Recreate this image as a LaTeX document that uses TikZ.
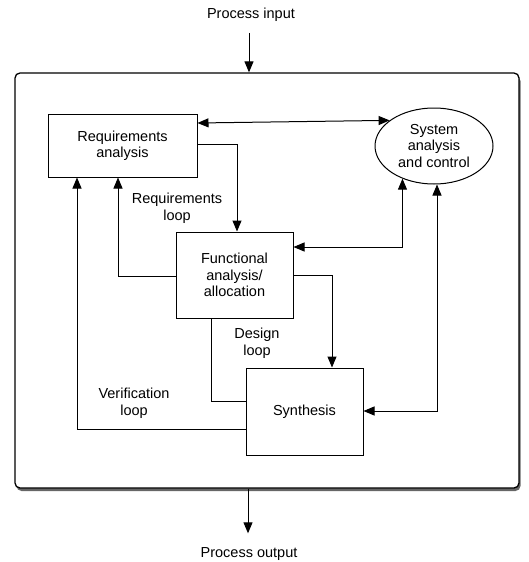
\documentclass[tikz,border=0pt]{standalone}
\usepackage{fontspec}
\setmainfont{Liberation Sans}
\usetikzlibrary{arrows.meta,shapes.geometric,shadows}
\begin{document}
\begin{tikzpicture}[x=1pt,y=-1pt,
  font=\fontsize{14.5}{16.5}\selectfont,
  box/.style={draw, line width=1pt, align=center, inner sep=0pt},
  lbl/.style={align=center, inner sep=0pt},
  conn/.style={line width=1pt},
  arr/.style={conn, -{Triangle[length=11pt,width=9pt]}},
  darr/.style={conn, {Triangle[length=11pt,width=9pt]}-{Triangle[length=11pt,width=9pt]}}]
\useasboundingbox (0,0) rectangle (528,562);
% outer frame
\node[draw, line width=1.3pt, rounded corners=5pt, minimum width=504pt, minimum height=415pt,
  inner sep=0pt, fill=white,
  drop shadow={shadow xshift=1.5pt, shadow yshift=-3pt, opacity=0.75, fill=black!80}]
  (outer) at (267,280.5) {};
% nodes
\node[box, minimum width=149pt, minimum height=63pt] (req) at (122.5,145.5) {Requirements\\analysis};
\node[box, ellipse, minimum width=118pt, minimum height=76pt] (ell) at (434,146) {System\\analysis\\and control};
\node[box, minimum width=117pt, minimum height=86pt] (func) at (234.5,275) {Functional\\analysis/\\allocation};
\node[box, minimum width=117pt, minimum height=87pt] (syn) at (304.5,411.5) {Synthesis};
% labels
\node[lbl] (lreq) at (177,208) {Requirements\\loop};
\node[lbl] (ldes) at (257,343) {Design\\loop};
\node[lbl] (lver) at (134,403) {Verification\\loop};
\node[lbl] (pin) at (251,15) {Process input};
\node[lbl] (pout) at (249,554) {Process output};
% connectors
\draw[darr] (req.east |- 0,123) -- (ell.150);
\draw[arr] (req.east |- 0,144) -| ([xshift=2.5pt]func.north);
\draw[arr] (func.west |- 0,276) -| ([xshift=-4.5pt]req.south);
\draw[arr] (syn.west |- 0,429) -| ([xshift=-45.5pt]req.south);
\draw[conn] ([xshift=-23.5pt]func.south) |- (syn.west |- 0,401);
\draw[arr] (func.east |- 0,275) -| ([xshift=27.5pt]syn.north);
\draw[darr] (func.east |- 0,247) -| (ell.226);
\draw[darr] (syn.east |- 0,411) -| ([xshift=3pt]ell.south);
\draw[arr] ([xshift=-2pt,yshift=-11pt]pin.south) coordinate (pa) -- (pa |- outer.north);
\draw[arr] (outer.south -| 248,0) coordinate (pb) -- ([yshift=14pt]pb |- pout.north);
\end{tikzpicture}
\end{document}
